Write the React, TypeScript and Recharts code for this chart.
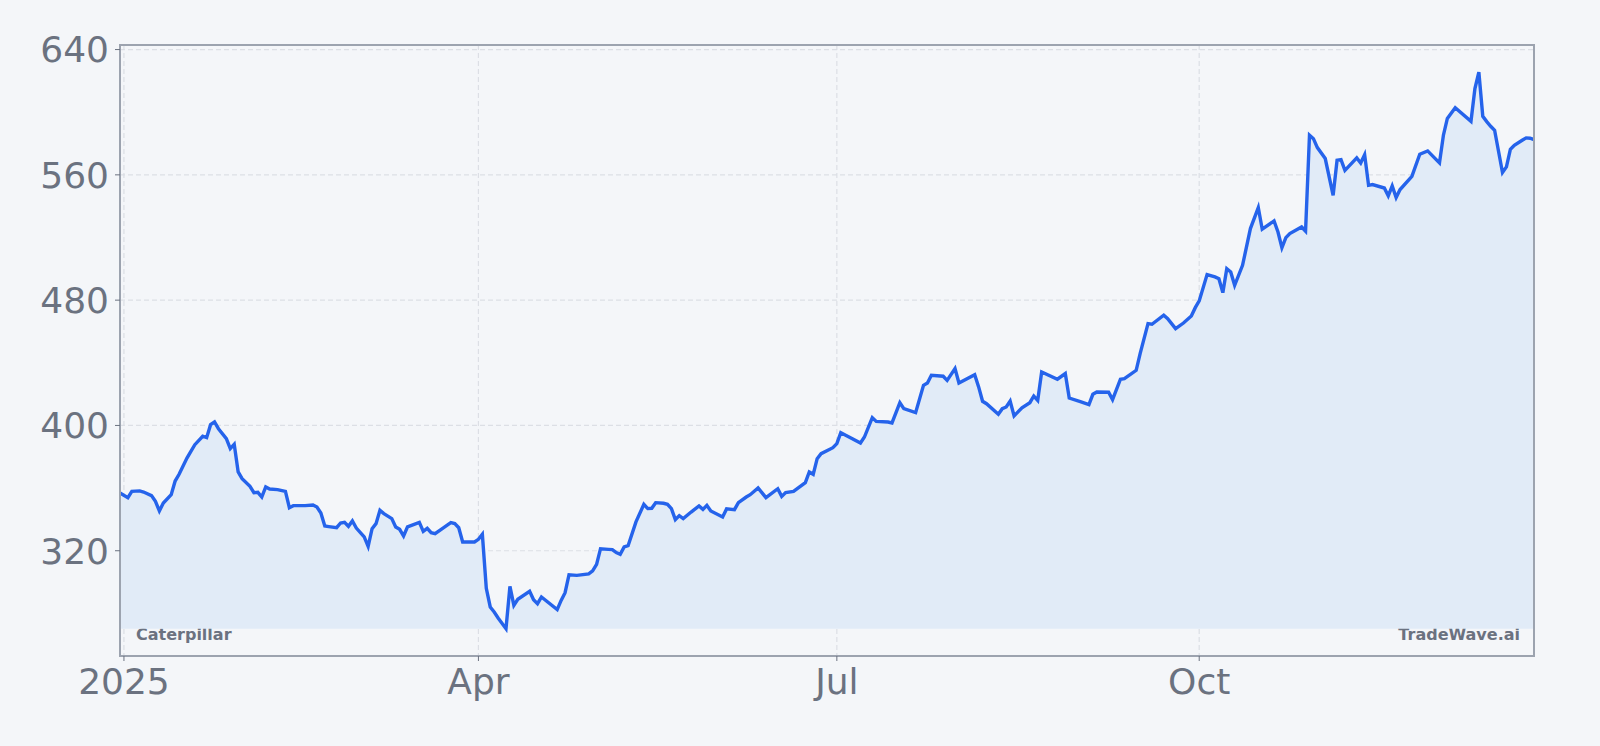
import React from 'react';
import { ComposedChart, Area, XAxis, YAxis, CartesianGrid, ReferenceArea } from 'recharts';

const dates: string[] = [
  '2024-12-31','2025-01-02','2025-01-03','2025-01-05','2025-01-06','2025-01-08','2025-01-09','2025-01-10','2025-01-11','2025-01-13',
  '2025-01-14','2025-01-15','2025-01-17','2025-01-18','2025-01-19','2025-01-21','2025-01-22','2025-01-23','2025-01-24','2025-01-25',
  '2025-01-27','2025-01-28','2025-01-29','2025-01-30','2025-01-31','2025-02-02','2025-02-03','2025-02-04','2025-02-05','2025-02-06',
  '2025-02-07','2025-02-09','2025-02-11','2025-02-12','2025-02-13','2025-02-16','2025-02-18','2025-02-19','2025-02-20','2025-02-21',
  '2025-02-22','2025-02-24','2025-02-25','2025-02-26','2025-02-27','2025-02-28','2025-03-01','2025-03-03','2025-03-04','2025-03-05',
  '2025-03-06','2025-03-07','2025-03-08','2025-03-10','2025-03-11','2025-03-12','2025-03-13','2025-03-14','2025-03-17','2025-03-18',
  '2025-03-19','2025-03-20','2025-03-21','2025-03-23','2025-03-25','2025-03-26','2025-03-27','2025-03-28','2025-03-31','2025-04-01',
  '2025-04-02','2025-04-03','2025-04-04','2025-04-05','2025-04-06','2025-04-08','2025-04-09','2025-04-10','2025-04-11','2025-04-14',
  '2025-04-15','2025-04-16','2025-04-17','2025-04-21','2025-04-22','2025-04-23','2025-04-24','2025-04-26','2025-04-29','2025-04-30',
  '2025-05-01','2025-05-02','2025-05-04','2025-05-05','2025-05-06','2025-05-07','2025-05-08','2025-05-09','2025-05-11','2025-05-13',
  '2025-05-14','2025-05-15','2025-05-16','2025-05-18','2025-05-19','2025-05-20','2025-05-21','2025-05-22','2025-05-23','2025-05-25',
  '2025-05-27','2025-05-28','2025-05-29','2025-05-30','2025-06-02','2025-06-03','2025-06-05','2025-06-06','2025-06-08','2025-06-09',
  '2025-06-11','2025-06-13','2025-06-16','2025-06-17','2025-06-18','2025-06-20','2025-06-23','2025-06-24','2025-06-25','2025-06-26',
  '2025-06-27','2025-06-30','2025-07-01','2025-07-02','2025-07-03','2025-07-07','2025-07-08','2025-07-10','2025-07-11','2025-07-14',
  '2025-07-15','2025-07-17','2025-07-18','2025-07-21','2025-07-23','2025-07-24','2025-07-25','2025-07-28','2025-07-29','2025-07-31',
  '2025-08-01','2025-08-05','2025-08-06','2025-08-07','2025-08-08','2025-08-11','2025-08-12','2025-08-13','2025-08-14','2025-08-15',
  '2025-08-17','2025-08-19','2025-08-20','2025-08-21','2025-08-22','2025-08-26','2025-08-28','2025-08-29','2025-09-01','2025-09-03',
  '2025-09-04','2025-09-05','2025-09-08','2025-09-09','2025-09-11','2025-09-12','2025-09-15','2025-09-16','2025-09-18','2025-09-19',
  '2025-09-22','2025-09-23','2025-09-25','2025-09-27','2025-09-29','2025-09-30','2025-10-01','2025-10-03','2025-10-05','2025-10-06',
  '2025-10-07','2025-10-08','2025-10-09','2025-10-10','2025-10-12','2025-10-14','2025-10-16','2025-10-17','2025-10-20','2025-10-21',
  '2025-10-22','2025-10-23','2025-10-24','2025-10-27','2025-10-28','2025-10-29','2025-10-30','2025-10-31','2025-11-02','2025-11-04',
  '2025-11-05','2025-11-06','2025-11-07','2025-11-10','2025-11-11','2025-11-12','2025-11-13','2025-11-14','2025-11-17','2025-11-18',
  '2025-11-19','2025-11-20','2025-11-21','2025-11-24','2025-11-26','2025-11-28','2025-12-01','2025-12-02','2025-12-03','2025-12-05',
  '2025-12-09','2025-12-10','2025-12-11','2025-12-12','2025-12-13','2025-12-14','2025-12-15','2025-12-17','2025-12-18','2025-12-19',
  '2025-12-20','2025-12-22','2025-12-23','2025-12-24','2025-12-25',
];

const closes: number[] = [
  356.9, 353.9, 357.9, 358.2, 357.5, 355.2, 351.5, 345.4, 350.5, 355.8,
  364.5, 368.8, 379.2, 383.5, 387.7, 393.1, 392.2, 400.5, 402.2, 397.9,
  391.6, 385.2, 388.0, 370.3, 366.0, 361.1, 357.1, 357.3, 354.3, 360.7,
  359.4, 359.0, 357.9, 347.5, 348.8, 348.8, 349.2, 347.9, 344.1, 335.8,
  335.4, 334.7, 337.7, 338.1, 335.6, 339.0, 334.5, 328.8, 322.8, 334.1,
  337.3, 345.8, 343.7, 340.5, 335.2, 333.7, 329.4, 335.2, 338.1, 332.4,
  334.3, 331.5, 330.9, 334.5, 337.9, 337.3, 334.7, 325.6, 325.6, 327.3,
  330.5, 296.0, 284.1, 280.9, 277.1, 270.2, 297.3, 285.1, 289.0, 294.1,
  288.7, 286.2, 290.5, 282.4, 288.3, 293.2, 304.7, 304.3, 305.2, 307.1,
  311.3, 321.3, 320.9, 320.7, 318.8, 317.7, 322.4, 323.2, 338.4, 349.6,
  346.9, 347.1, 350.7, 350.3, 349.6, 346.9, 339.9, 342.4, 340.5, 344.7,
  348.6, 346.4, 349.0, 345.4, 341.6, 346.7, 346.2, 350.7, 354.3, 355.8,
  360.1, 353.9, 359.6, 354.7, 357.1, 357.9, 363.5, 370.3, 368.8, 378.8,
  382.0, 385.8, 388.4, 395.4, 394.1, 388.8, 392.6, 405.0, 402.6, 402.2,
  401.6, 414.5, 410.7, 408.2, 425.6, 427.1, 432.0, 431.4, 428.8, 436.3,
  427.1, 432.4, 424.6, 415.4, 413.9, 407.1, 410.7, 411.8, 415.6, 406.1,
  411.2, 414.5, 418.8, 416.0, 434.1, 429.5, 433.1, 417.5, 415.0, 413.3,
  419.9, 421.4, 421.2, 416.5, 429.5, 429.9, 435.2, 445.9, 465.0, 464.6,
  470.4, 468.2, 461.8, 465.4, 469.9, 475.2, 479.5, 496.3, 494.8, 493.7,
  484.8, 500.1, 498.0, 489.5, 502.2, 525.7, 539.1, 525.3, 530.6, 523.5,
  513.5, 519.9, 522.5, 526.7, 524.0, 585.3, 583.1, 577.4, 570.4, 546.9,
  569.3, 569.7, 562.9, 570.8, 567.6, 572.9, 553.3, 553.8, 551.6, 546.6,
  552.9, 545.5, 550.6, 559.1, 573.2, 575.3, 567.6, 585.3, 596.0, 602.8,
  594.2, 615.1, 625.5, 597.4, 594.0, 591.0, 588.5, 561.5, 565.1, 576.3,
  578.9, 582.1, 583.6, 583.4, 582.5,
];

const yTicks: number[] = [320, 400, 480, 560, 640];
const xTickDates: string[] = ['2025-01-01', '2025-04-01', '2025-07-01', '2025-10-01'];
const monthNames: string[] = ['Jan', 'Feb', 'Mar', 'Apr', 'May', 'Jun', 'Jul', 'Aug', 'Sep', 'Oct', 'Nov', 'Dec'];

const toTs = (s: string) => {
  const [y, m, d] = s.split('-').map(Number);
  return Date.UTC(y, m - 1, d);
};

const data = dates.map((d, i) => ({ t: toTs(d), close: closes[i] }));
const xTicks = xTickDates.map(toTs);

const minV = Math.min(...closes);
const maxV = Math.max(...closes);
const pad = (maxV - minV) * 0.049;
const yDomain: [number, number] = [minV - pad, maxV + pad];
const xDomain: [number, number] = [data[0].t, data[data.length - 1].t];

const fmtX = (v: number) => {
  const dt = new Date(v);
  const m = dt.getUTCMonth();
  return m === 0 ? String(dt.getUTCFullYear()) : monthNames[m];
};

const FONT = '"DejaVu Sans", sans-serif';
const TEXT = '#6b7280';
const FRAME = '#9ca3af';
const BG = '#f4f6f9';

export default function App() {
  if (typeof document !== 'undefined') {
    document.body.style.margin = '0';
    document.body.style.background = BG;
  }
  const tickStyle = { fontSize: 36, fill: TEXT, fontFamily: FONT };
  return (
    <div style={{ width: 1600, height: 746, background: BG }}>
      <ComposedChart
        width={1600}
        height={746}
        data={data}
        margin={{ top: 45, right: 66, bottom: 30, left: 0 }}
      >
        <CartesianGrid stroke="#dcdfe5" strokeDasharray="5 3" strokeWidth={1.2} />
        <XAxis
          dataKey="t"
          type="number"
          scale="time"
          domain={xDomain}
          ticks={xTicks}
          tickFormatter={fmtX}
          height={60}
          tick={tickStyle}
          tickSize={5}
          tickMargin={7}
          stroke={FRAME}
          strokeWidth={2}
          tickLine={{ stroke: TEXT, strokeWidth: 1 }}
          allowDataOverflow
        />
        <YAxis
          type="number"
          domain={yDomain}
          ticks={yTicks}
          width={120}
          tick={tickStyle}
          tickSize={5}
          tickMargin={6}
          stroke={FRAME}
          strokeWidth={2}
          tickLine={{ stroke: TEXT, strokeWidth: 1 }}
          allowDataOverflow
        />
        <Area
          type="linear"
          dataKey="close"
          stroke="#2563eb"
          strokeWidth={3.4}
          fill="#e1ebf7"
          fillOpacity={1}
          baseValue={minV}
          isAnimationActive={false}
          dot={false}
          activeDot={false}
        />
        <ReferenceArea
          x1={xDomain[0]}
          x2={xDomain[1]}
          y1={yDomain[0]}
          y2={yDomain[1]}
          fill="none"
          fillOpacity={0}
          stroke={FRAME}
          strokeWidth={2}
          strokeOpacity={1}
          ifOverflow="visible"
        />
        <text x={136} y={640} fontFamily={FONT} fontWeight="bold" fontSize={16} fill={TEXT}>
          Caterpillar
        </text>
        <text x={1520} y={640} fontFamily={FONT} fontWeight="bold" fontSize={16} fill={TEXT} textAnchor="end">
          TradeWave.ai
        </text>
      </ComposedChart>
    </div>
  );
}
